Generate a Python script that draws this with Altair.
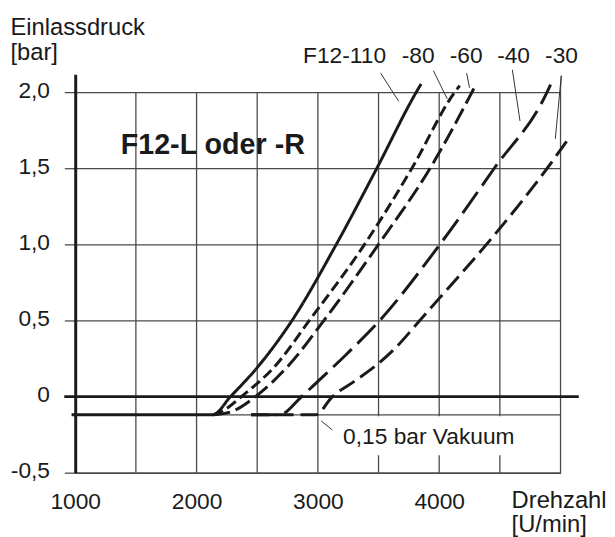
import altair as alt
import pandas as pd

FONT = "Liberation Sans"
INK = "#1a1a1a"
GRID = "#4a4a4a"

# ---- curve data (Drehzahl [U/min] vs Einlassdruck [bar]) ----
series_names = ["F12-110", "-80", "-60", "-40", "-30"]
rpm_110 = [970, 2132, 2280, 2513, 2787, 3152, 3486, 3811, 3851]
bar_110 = [-0.12, -0.12, 0.0, 0.203, 0.5, 1.0, 1.5, 2.0, 2.054]
rpm_80 = [2135, 2227, 2370, 2650, 2930, 3385, 3775, 4128, 4169]
bar_80 = [-0.12, -0.089, 0.0, 0.203, 0.5, 1.0, 1.5, 2.0, 2.043]
rpm_60 = [2140, 2300, 2486, 2757, 3050, 3500, 3925, 4270, 4305]
bar_60 = [-0.12, -0.095, 0.0, 0.203, 0.5, 1.0, 1.5, 2.0, 2.054]
rpm_40 = [2450, 2680, 2866, 3000, 3232, 3510, 4006, 4454, 4889, 4918]
bar_40 = [-0.12, -0.12, 0.0, 0.1, 0.275, 0.5, 1.0, 1.5, 2.0, 2.05]
rpm_30 = [2450, 2980, 3120, 3300, 3477, 3640, 3840, 4000, 4390, 4890, 5065]
bar_30 = [-0.12, -0.12, 0.0, 0.1, 0.203, 0.32, 0.5, 0.645, 1.0, 1.5, 1.693]
dash_patterns = [[1, 0], [11, 5], [17, 6], [26, 8], [18, 7]]
line_widths = [3, 3, 3, 2.6, 3.4]

# ---- axes / grid ----
x_ticks = [1000, 2000, 3000, 4000]
x_grid = [1500, 2000, 2500, 3000, 3500, 4000, 4500, 5000]
y_ticks = [-0.5, 0.0, 0.5, 1.0, 1.5, 2.0]
y_tick_labels = ["-0,5", "0", "0,5", "1,0", "1,5", "2,0"]
vacuum_level = -0.12

# ---- annotations ----
top_labels = ["F12-110", "-80", "-60", "-40", "-30"]
top_label_rpm = [3220, 3827, 4222, 4613, 5008]
top_label_bar = [2.19, 2.19, 2.19, 2.19, 2.19]
leader_x1 = [3517, 3952, 4226, 4603, 5006, 5006, 3028]
leader_y1 = [2.125, 2.141, 2.125, 2.147, 2.108, 2.108, -0.160]
leader_x2 = [3666, 4066, 4250, 4666, 4957, 5000, 3118]
leader_y2 = [1.940, 1.956, 2.029, 1.810, 1.693, 2.0, -0.219]
vac_label = "0,15 bar Vakuum"
vac_label_pos = (3208, -0.31)
vac_box = (3160, 4650, -0.13, -0.385)
model_label = "F12-L oder -R"
model_label_pos = (1375, 1.591)
zero_line_x = (910, 5150)

# ---- tables ----
rows = []
for name, xs_, ys_ in [("F12-110", rpm_110, bar_110), ("-80", rpm_80, bar_80),
                       ("-60", rpm_60, bar_60), ("-40", rpm_40, bar_40),
                       ("-30", rpm_30, bar_30)]:
    for xv, yv in zip(xs_, ys_):
        rows.append({"series": name, "rpm": xv, "bar": yv})
curves = pd.DataFrame(rows)

xs = alt.Scale(domain=[1000, 5000], nice=False, zero=False)
ys = alt.Scale(domain=[-0.5, 2.117], nice=False, zero=False)

lab_map = ", ".join(f"'{v}': '{l}'" for v, l in zip(["-0.5", "0", "0.5", "1", "1.5", "2"], y_tick_labels))

x_axis = alt.Axis(values=x_ticks, format="d", ticks=False, grid=False, domain=True,
                  domainColor=GRID, domainWidth=1.5, labelFont=FONT, labelFontSize=23,
                  labelColor=INK, labelBaseline="alphabetic", labelPadding=36,
                  labelFlush=False, title=["Drehzahl", "[U/min]"], titleFont=FONT,
                  titleFontSize=24, titleFontWeight="normal", titleColor=INK,
                  titleAlign="left", titleAnchor="start", titleBaseline="alphabetic",
                  titleX=441, titleY=35, titleLineHeight=25)
y_axis = alt.Axis(values=y_ticks, grid=True, gridColor=GRID, gridWidth=1.3,
                  domain=True, domainColor=INK, domainWidth=3, ticks=True, tickSize=11,
                  tickColor=GRID, tickWidth=1.3, labelFont=FONT, labelFontSize=23,
                  labelColor=INK, labelPadding=15, labelBaseline="middle", labelOffset=-2,
                  labelExpr="{" + lab_map + "}[toString(datum.value)]",
                  title=["Einlassdruck", "[bar]"], titleFont=FONT, titleFontSize=24,
                  titleFontWeight="normal", titleColor=INK, titleAngle=0,
                  titleAlign="left", titleBaseline="alphabetic", titleX=-66, titleY=-40,
                  titleLineHeight=25)

vgrid = alt.Chart(pd.DataFrame({"x": x_grid, "y": -0.5, "y2": 2.0})).mark_rule(
    color=GRID, strokeWidth=1.3).encode(
    x=alt.X("x:Q", scale=xs, axis=x_axis), y=alt.Y("y:Q", scale=ys, axis=y_axis), y2="y2:Q")

box = alt.Chart(pd.DataFrame({"x": [vac_box[0]], "x2": [vac_box[1]],
                              "y": [vac_box[2]], "y2": [vac_box[3]]})).mark_rect(
    fill="white").encode(x=alt.X("x:Q", scale=xs), x2="x2:Q", y=alt.Y("y:Q", scale=ys), y2="y2:Q")

vac_line = alt.Chart(pd.DataFrame({"x": [1000], "x2": [5000], "y": [vacuum_level]})).mark_rule(
    color=GRID, strokeWidth=1.2).encode(x=alt.X("x:Q", scale=xs), x2="x2:Q", y=alt.Y("y:Q", scale=ys))

zero_line = alt.Chart(pd.DataFrame({"x": [zero_line_x[0]], "x2": [zero_line_x[1]], "y": [0.0]})).mark_rule(
    color=INK, strokeWidth=2.8).encode(x=alt.X("x:Q", scale=xs), x2="x2:Q", y=alt.Y("y:Q", scale=ys))

lines = alt.Chart(curves).mark_line(color=INK, interpolate="monotone", strokeCap="butt").encode(
    x=alt.X("rpm:Q", scale=xs),
    y=alt.Y("bar:Q", scale=ys),
    strokeDash=alt.StrokeDash("series:N", scale=alt.Scale(domain=series_names, range=dash_patterns),
                              legend=None),
    strokeWidth=alt.StrokeWidth("series:N", scale=alt.Scale(domain=series_names, range=line_widths),
                                legend=None),
    detail="series:N",
)

leaders = alt.Chart(pd.DataFrame({"x": leader_x1, "y": leader_y1, "x2": leader_x2, "y2": leader_y2})).mark_rule(
    color="#333", strokeWidth=1).encode(x=alt.X("x:Q", scale=xs), y=alt.Y("y:Q", scale=ys), x2="x2:Q", y2="y2:Q")

top_text = alt.Chart(pd.DataFrame({"t": top_labels, "x": top_label_rpm, "y": top_label_bar})).mark_text(
    font=FONT, fontSize=23, color=INK, align="center", baseline="alphabetic").encode(
    x=alt.X("x:Q", scale=xs), y=alt.Y("y:Q", scale=ys), text="t:N")

vac_text = alt.Chart(pd.DataFrame({"t": [vac_label], "x": [vac_label_pos[0]], "y": [vac_label_pos[1]]})).mark_text(
    font=FONT, fontSize=23, color=INK, align="left", baseline="alphabetic").encode(
    x=alt.X("x:Q", scale=xs), y=alt.Y("y:Q", scale=ys), text="t:N")

model_text = alt.Chart(pd.DataFrame({"t": [model_label], "x": [model_label_pos[0]], "y": [model_label_pos[1]]})).mark_text(
    font=FONT, fontSize=29, fontWeight="bold", color=INK, align="left", baseline="alphabetic").encode(
    x=alt.X("x:Q", scale=xs), y=alt.Y("y:Q", scale=ys), text="t:N")

chart = alt.layer(vgrid, box, vac_line, zero_line, lines, leaders, top_text, vac_text, model_text).properties(
    width=491, height=403, autosize="none",
    padding={"left": 68, "top": 64, "right": 47, "bottom": 64},
    background="white",
).configure_view(stroke=None)

chart.save("out.html", embed_options={"renderer": "svg", "actions": False})
